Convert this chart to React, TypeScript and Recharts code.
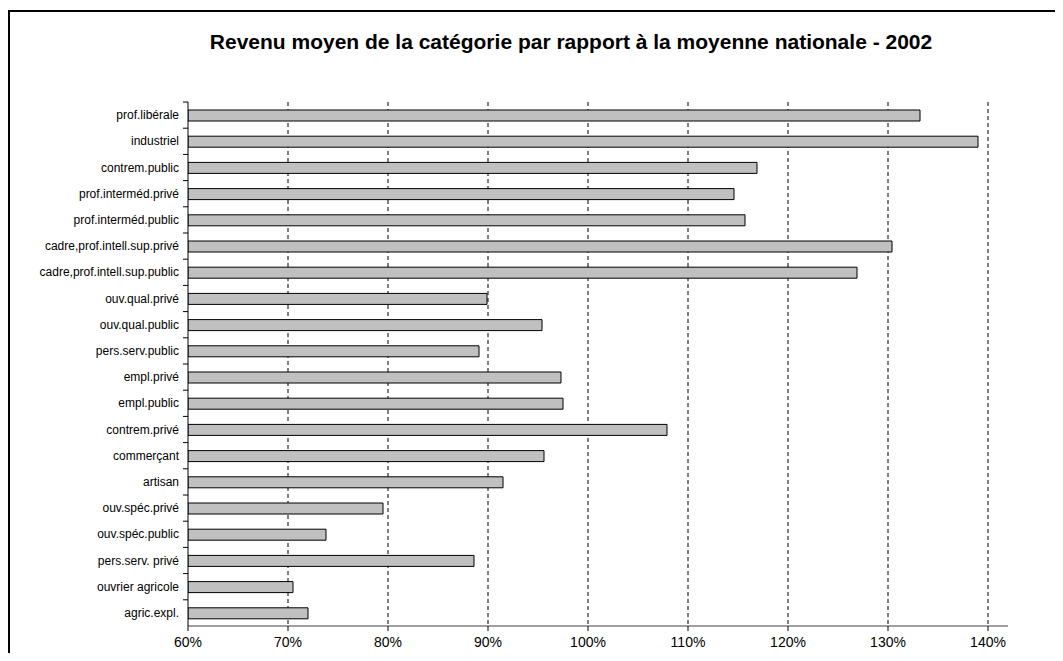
import React from "react";
import { BarChart, Bar, XAxis, YAxis, CartesianGrid } from "recharts";

const categories = [
  "prof.libérale",
  "industriel",
  "contrem.public",
  "prof.interméd.privé",
  "prof.interméd.public",
  "cadre,prof.intell.sup.privé",
  "cadre,prof.intell.sup.public",
  "ouv.qual.privé",
  "ouv.qual.public",
  "pers.serv.public",
  "empl.privé",
  "empl.public",
  "contrem.privé",
  "commerçant",
  "artisan",
  "ouv.spéc.privé",
  "ouv.spéc.public",
  "pers.serv. privé",
  "ouvrier agricole",
  "agric.expl.",
];

const values = [
  133.2, 139.0, 116.9, 114.6, 115.7, 130.4, 126.9, 89.9, 95.4, 89.1, 97.3,
  97.5, 107.9, 95.6, 91.5, 79.5, 73.8, 88.6, 70.5, 72.0,
];

const xTicks = [60, 70, 80, 90, 100, 110, 120, 130, 140];
const gridTicks = [70, 80, 90, 100, 110, 120, 130, 140];
const X_DOMAIN: [number, number] = [60, 142];
const title = "Revenu moyen de la catégorie par rapport à la moyenne nationale - 2002";

const data = categories.map((name, i) => ({ name, value: values[i] }));

const FONT = "'Liberation Sans', Arial, sans-serif";

const CHART_W = 1050;
const CHART_H = 641;
const MARGIN = { top: 90, right: 52, bottom: 3, left: 0 };
const X_AXIS_H = 24;
const PLOT_H = CHART_H - MARGIN.top - MARGIN.bottom - X_AXIS_H;
const BAND = PLOT_H / categories.length;

const CategoryTick = (props: any) => {
  const { x, y, payload } = props;
  const axisX = x + 9;
  return (
    <g>
      <line x1={axisX - 5} x2={axisX} y1={y - BAND / 2} y2={y - BAND / 2} stroke="#000" strokeWidth={1} />
      <text x={x} y={y} dy={4} textAnchor="end" fontSize={12} fill="#000" fontFamily={FONT}>
        {payload.value}
      </text>
    </g>
  );
};

const gridGen = (props: any) => {
  const { offset } = props;
  const left = offset?.left ?? 178;
  const w = offset?.width ?? CHART_W - 178 - MARGIN.right;
  return gridTicks.map(
    (t) => left + ((t - X_DOMAIN[0]) / (X_DOMAIN[1] - X_DOMAIN[0])) * w
  );
};

export default function App() {
  return (
    <div
      style={{
        position: "relative",
        width: 1053,
        height: 641,
        marginTop: 2,
        borderTop: "2px solid #000",
        borderLeft: "2px solid #000",
        overflow: "hidden",
        background: "#fff",
        fontFamily: FONT,
      }}
    >
      <div
        style={{
          position: "absolute",
          left: 161,
          width: 800,
          top: 17,
          textAlign: "center",
          fontSize: 21,
          lineHeight: "26px",
          fontWeight: "bold",
          color: "#000",
          whiteSpace: "nowrap",
        }}
      >
        {title}
      </div>
      <BarChart
        width={CHART_W}
        height={CHART_H}
        data={data}
        layout="vertical"
        margin={MARGIN}
        barCategoryGap={0}
      >
        <CartesianGrid
          horizontal={false}
          vertical={true}
          stroke="#000"
          strokeDasharray="4 3"
          verticalCoordinatesGenerator={gridGen}
        />
        <XAxis
          type="number"
          domain={X_DOMAIN}
          ticks={xTicks}
          allowDataOverflow
          height={X_AXIS_H}
          tickFormatter={(v: number) => `${v}%`}
          tick={{ fontSize: 14, fill: "#000", fontFamily: FONT }}
          axisLine={{ stroke: "#808080", strokeWidth: 1.5 }}
          tickLine={{ stroke: "#000" }}
          tickSize={5}
          tickMargin={6}
        />
        <YAxis
          type="category"
          dataKey="name"
          width={178}
          interval={0}
          tick={<CategoryTick />}
          tickLine={false}
          tickSize={5}
          tickMargin={4}
          axisLine={{ stroke: "#000" }}
        />
        <Bar
          dataKey="value"
          barSize={11}
          fill="#c0c0c0"
          stroke="#000"
          strokeWidth={1}
          isAnimationActive={false}
        />
      </BarChart>
    </div>
  );
}
